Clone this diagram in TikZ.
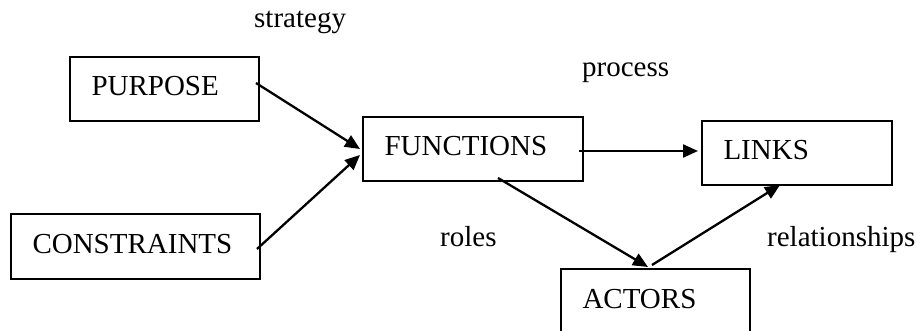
\documentclass[tikz,border=0pt]{standalone}
\usepackage{fontspec}
\setmainfont{Liberation Serif}
\usetikzlibrary{arrows.meta}
\begin{document}
\begin{tikzpicture}[x=1pt,y=-1pt,
  font=\fontsize{29}{34}\selectfont,
  box/.style={draw, line width=1.9pt, anchor=north west, outer sep=0pt,
    inner xsep=21.5pt, align=left, text height=19pt, text depth=5pt,
    minimum height=64pt},
  lbl/.style={anchor=base west, inner sep=0pt},
  arr/.style={line width=2.3pt, -{Triangle[length=15pt,width=13pt]}}]
\useasboundingbox (0,0) rectangle (917,331);
\node[box, minimum width=189pt, text width=146pt] (purpose) at (70,57) {PURPOSE};
\node[box, minimum width=249pt, text width=206pt, minimum height=65pt] (constraints) at (11,214) {CONSTRAINTS};
\node[box, minimum width=220pt, text width=177pt] (functions) at (363,117) {FUNCTIONS};
\node[box, minimum width=190pt, text width=147pt] (links) at (702,121) {LINKS};
\node[box, minimum width=189pt, text width=146pt] (actors) at (561,269) {ACTORS};

\node[lbl] (strategy) at (254,28) {strategy};
\node[lbl] (process) at (582,77) {process};
\node[lbl] (roles) at (440,246) {roles};
\node[lbl] (relationships) at (767,246) {relationships};

\draw[arr] ([xshift=-3pt,yshift=6pt]purpose.east) -- ([xshift=-3pt]functions.west);
\draw[arr] ([xshift=-3pt,yshift=-2.5pt]constraints.east) -- ([xshift=-3pt,yshift=-6pt]functions.west);
\draw[arr] ([xshift=-4pt,yshift=-2pt]functions.east) -- ([xshift=-4pt,yshift=2pt]links.west);
\draw[arr] ([xshift=25pt,yshift=3pt]functions.south) -- ([xshift=-7.5pt,yshift=2pt]actors.north);
\draw[arr] ([xshift=-3.5pt,yshift=4pt]actors.north) -- ([xshift=-17pt]links.south);
\end{tikzpicture}
\end{document}
